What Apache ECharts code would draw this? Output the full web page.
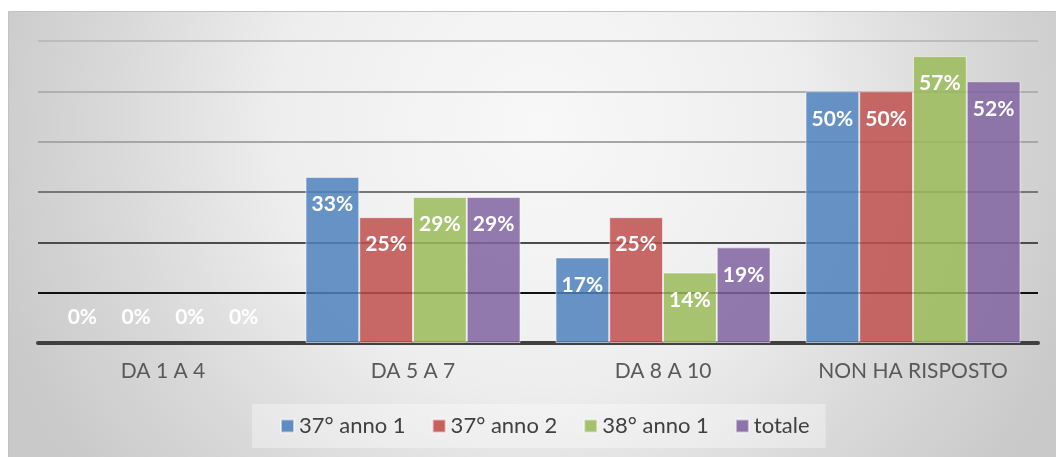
<!DOCTYPE html>
<html>
<head>
<meta charset="utf-8">
<script src="https://cdn.jsdelivr.net/npm/echarts@6/dist/echarts.min.js"></script>
<style>
  html, body { margin: 0; padding: 0; background: #fff; }
  #main { width: 1056px; height: 457px; }
</style>
</head>
<body>
<div id="main"></div>
<script>
// categorie e valori (%)
var categories = ["DA 1 A 4", "DA 5 A 7", "DA 8 A 10", "NON HA RISPOSTO"];
var seriesNames = ["37° anno 1", "37° anno 2", "38° anno 1", "totale"];
var anno37_1 = [0, 33, 17, 50];
var anno37_2 = [0, 25, 25, 50];
var anno38_1 = [0, 29, 14, 57];
var totale = [0, 29, 19, 52];
var colors = ["rgba(79,129,189,0.85)", "rgba(192,80,77,0.85)", "rgba(155,187,89,0.85)", "rgba(128,100,162,0.85)"];
var legendColors = ["#5f8dc3", "#c6605e", "#a5c16d", "#8c73aa"];

var font = "Lato, 'Open Sans', sans-serif";

// colori delle linee di griglia, dal basso verso l'alto
var gridColors = ["#444", "#111", "#4c4c4c", "#777", "#a6a6a6", "#b0b0b0", "#bcbcbc"];

function buildData(vals) {
  return vals.map(function (v) {
    if (v === 0) {
      // barre a zero: niente bordo, etichetta sopra l'asse
      return {
        value: v,
        itemStyle: { borderWidth: 0 },
        label: { position: "insideBottom", distance: 15 }
      };
    }
    return v;
  });
}

var allSeries = [anno37_1, anno37_2, anno38_1, totale].map(function (vals, i) {
  return {
    name: seriesNames[i],
    type: "bar",
    barGap: "0%",
    barCategoryGap: "14%",
    data: buildData(vals),
    itemStyle: {
      color: colors[i],
      borderColor: "rgba(255,255,255,0.55)",
      borderWidth: 1
    },
    label: {
      show: true,
      position: "insideTop",
      distance: 17,
      formatter: "{c}%",
      color: "#fff",
      fontFamily: font,
      fontWeight: "bold",
      fontSize: 21
    }
  };
});

var myChart = echarts.init(document.getElementById("main"));
myChart.setOption({
  animation: false,
  graphic: [
    {
      type: "rect",
      z: -10,
      silent: true,
      shape: { x: 8.5, y: 11.5, width: 1060, height: 460 },
      style: {
        stroke: "#c2c2c2",
        lineWidth: 1,
        fill: new echarts.graphic.RadialGradient(0.5, 0.25, 1.25, [
          { offset: 0, color: "#f8f8f8" },
          { offset: 0.45, color: "#eeeeee" },
          { offset: 0.75, color: "#d8d8d8" },
          { offset: 1, color: "#c9c9c9" }
        ])
      }
    }
  ],
  grid: {
    left: 38,
    right: 18,
    top: 41,
    bottom: 114
  },
  legend: {
    data: seriesNames.map(function (n, i) {
      return { name: n, itemStyle: { color: legendColors[i] } };
    }),
    left: 252,
    top: 404,
    padding: [11, 16, 11, 28],
    backgroundColor: "rgba(255,255,255,0.35)",
    itemWidth: 13,
    itemHeight: 13,
    itemGap: 26,
    icon: "rect",
    textStyle: {
      color: "#404040",
      fontFamily: font,
      fontSize: 22
    }
  },
  xAxis: {
    type: "category",
    data: categories,
    axisTick: { show: false },
    axisLine: { lineStyle: { color: "#404040", width: 4 } },
    axisLabel: {
      color: "#595959",
      fontFamily: font,
      fontSize: 21,
      margin: 18
    }
  },
  yAxis: {
    type: "value",
    min: 0,
    max: 60,
    interval: 10,
    axisLabel: { show: false },
    axisLine: { show: false },
    axisTick: { show: false },
    splitLine: {
      lineStyle: { color: gridColors, width: 2 }
    }
  },
  series: allSeries
});
</script>
</body>
</html>
